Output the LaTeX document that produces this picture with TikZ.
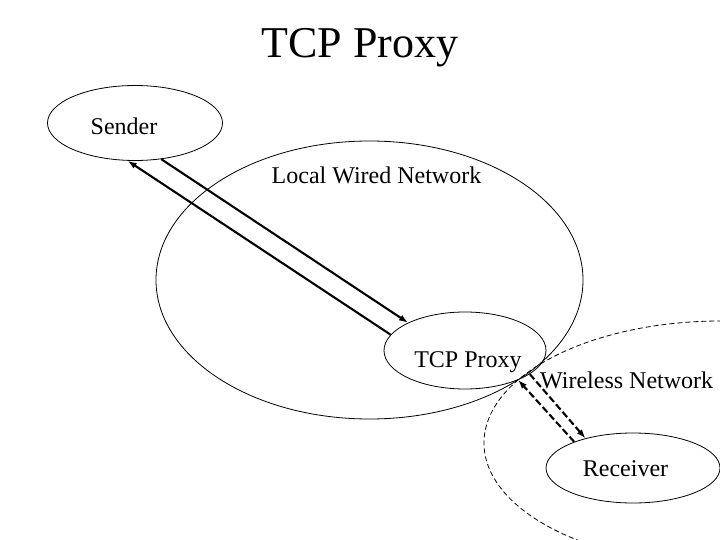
\documentclass[tikz,border=0pt]{standalone}
\usepackage{fontspec}
\setmainfont{Liberation Serif}
\usetikzlibrary{arrows.meta,positioning,shapes.geometric}

\begin{document}
\begin{tikzpicture}[
    x=1pt, y=-1pt,
    >={Latex[length=9pt,width=6.5pt]},
    net_node/.style={draw, ellipse, inner sep=0pt, line width=0.8pt},
    host_node/.style={draw, ellipse, inner sep=0pt, line width=0.8pt},
    label_text/.style={inner sep=0pt, font=\fontsize{24}{28}\selectfont},
    wired_edge/.style={->, line width=2.1pt},
    wireless_edge/.style={->, line width=2.1pt, dash pattern=on 7pt off 3pt}
]
\useasboundingbox (0,0) rectangle (720,540);
\clip (0,0) rectangle (720,540);

% --- NETWORKS ---
\node[net_node, dash pattern=on 5pt off 3pt, minimum width=474pt, minimum height=244pt] (wlan) at (721,443) {};
\node[net_node, minimum width=427pt, minimum height=278pt] (lan) at (369.5,280) {};

% --- HOSTS ---
\node[host_node, minimum width=175pt, minimum height=75pt] (sender) at (135,123) {};
\node[host_node, minimum width=162pt, minimum height=77pt] (proxy) at (465,350.5) {};
\node[host_node, minimum width=174pt, minimum height=70pt] (receiver) at (633,468) {};

% --- LABELS ---
\node[inner sep=0pt, font=\fontsize{44}{50}\selectfont] (title) at (360,48) {TCP Proxy};
\node[label_text] (sender_lbl) at (124,126.5) {Sender};
\node[label_text, below=26pt of lan.north, xshift=7pt] (lan_lbl) {Local Wired Network};
\node[label_text] (proxy_lbl) at (468,362.5) {TCP Proxy};
\node[label_text] (wlan_lbl) at (626.7,380) {Wireless Network};
\node[label_text] (receiver_lbl) at (625.5,469) {Receiver};

% --- EDGES ---

% wired path
\draw[wired_edge] (sender.-54.7) -- (proxy.154.2);
\draw[wired_edge] (proxy.168.3) -- (sender.-101.6);

% wireless path
\draw[wireless_edge] (proxy.-20) -- (receiver.148.6);
\draw[wireless_edge] (receiver.156.9) -- (proxy.-29.7);

\end{tikzpicture}
\end{document}
